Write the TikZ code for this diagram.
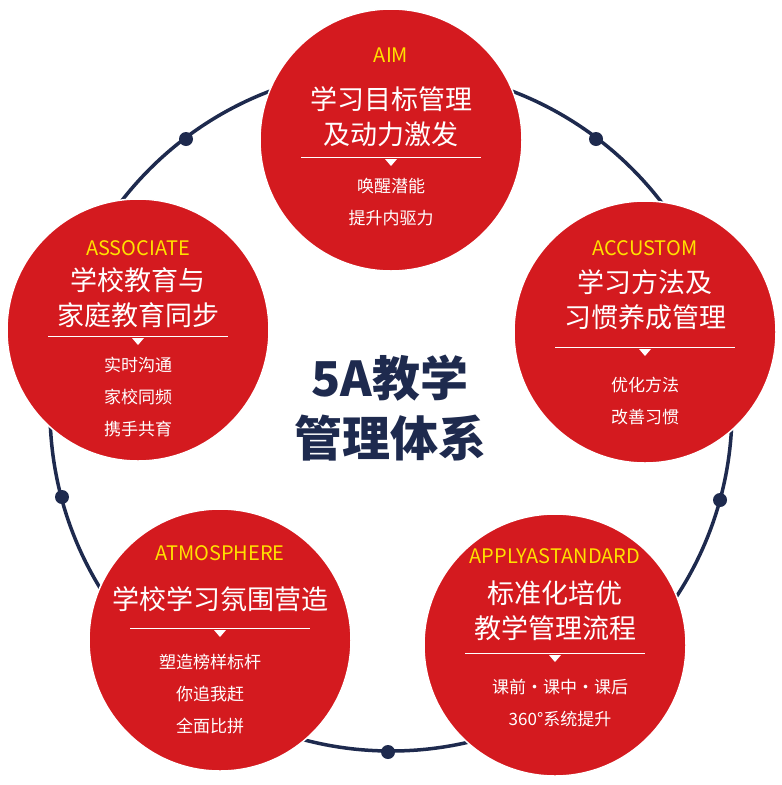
\documentclass[tikz,border=0pt]{standalone}
\usepackage{fontspec}
\setmainfont{Noto Sans CJK SC}
\definecolor{rd}{HTML}{D41A1F}
\definecolor{nv}{HTML}{1E2A4E}
\definecolor{yl}{HTML}{FFE100}
\tikzset{
 bub/.style={circle,minimum size=262pt,inner sep=0pt,fill=rd,draw=white,line width=1.5pt},
 en/.style={text=yl,font=\fontsize{20}{20}\selectfont},
 hd/.style={text=white,font=\fontsize{27}{35}\selectfont,align=center},
 sb/.style={text=white,font=\fontsize{17}{32}\selectfont,align=center},
 dot/.style={circle,fill=nv,minimum size=14pt,inner sep=0pt}
}
\newcommand{\sep}[3]{\draw[white,line width=0.8pt] (#1-#3/2,#2)--(#1+#3/2,#2);
 \fill[white] (#1-6,#2+2)--(#1+6,#2+2)--(#1,#2+9)--cycle;}
\begin{document}
\begin{tikzpicture}[x=1pt,y=-1pt]
\useasboundingbox (0,0) rectangle (782,785);
\fill[white] (0,0) rectangle (782,785);
\node[circle,draw=nv,line width=3.5pt,minimum size=682pt,inner sep=0pt] (ring) at (391,410) {};
\foreach \n/\p in {d1/{(186,139)},d2/{(596,139)},d3/{(720,500)},d4/{(62,497)},d5/{(388,752)}}
 \node[dot] (\n) at \p {};
% AIM
\node[bub] (b1) at (391,140) {};
\node[en] (e1) at (391,55) {AIM};
\node[hd] (h1) at (391,117) {学习目标管理\\及动力激发};
\sep{391}{157}{180}
\node[sb] (s1) at (391,202) {唤醒潜能\\提升内驱力};
% ACCUSTOM
\node[bub] (b2) at (645,332) {};
\node[en] (e2) at (645,248) {ACCUSTOM};
\node[hd] (h2) at (645,300) {学习方法及\\习惯养成管理};
\sep{645}{347}{180}
\node[sb] (s2) at (645,401) {优化方法\\改善习惯};
% ASSOCIATE
\node[bub] (b3) at (138,330) {};
\node[en] (e3) at (138,248) {ASSOCIATE};
\node[hd] (h3) at (138,298) {学校教育与\\家庭教育同步};
\sep{138}{336}{180}
\node[sb] (s3) at (138,397) {实时沟通\\家校同频\\携手共育};
% ATMOSPHERE
\node[bub] (b4) at (220,640) {};
\node[en] (e4) at (220,553) {ATMOSPHERE};
\node[hd] (h4) at (220,599) {学校学习氛围营造};
\sep{220}{628}{180}
\node[sb] (s4) at (210,694) {塑造榜样标杆\\你追我赶\\全面比拼};
% APPLY
\node[bub] (b5) at (555,645) {};
\node[en] (e5) at (555,556) {APPLYASTANDARD};
\node[hd] (h5) at (555,611) {标准化培优\\教学管理流程};
\sep{555}{653}{180}
\node[sb] (s5) at (560,703) {课前·课中·课后\\360°系统提升};
% center
\node[text=nv,font=\fontsize{48}{60}\selectfont\bfseries,align=center] (c) at (390,408) {5A教学\\管理体系};
\end{tikzpicture}
\end{document}
